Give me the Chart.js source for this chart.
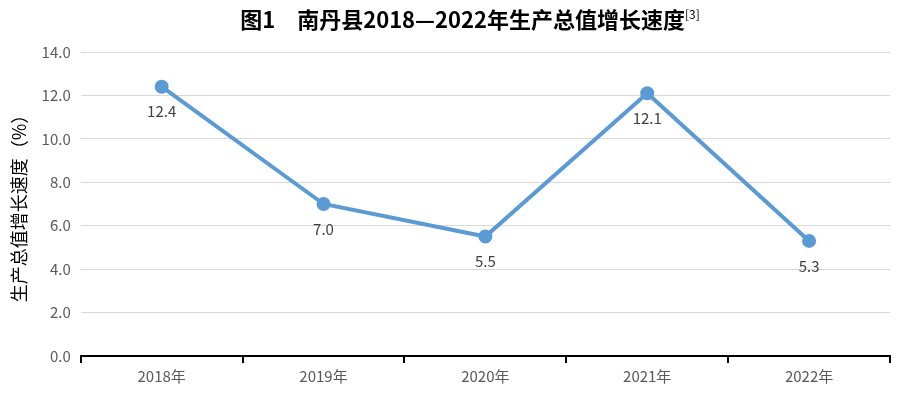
<!DOCTYPE html>
<html>
<head>
<meta charset="utf-8">
<script src="https://cdn.jsdelivr.net/npm/chart.js@4"></script>
<style>
  body { margin: 0; background: #fff; }
  #wrap { position: relative; width: 900px; height: 404px; }
  #title {
    position: absolute; left: 40px; top: 2px; width: 860px; text-align: center;
    font-family: "Noto Sans CJK SC", sans-serif; font-size: 22px; font-weight: bold; color: #000;
  }
  #title sup { font-size: 12px; font-weight: normal; vertical-align: 9px; }
</style>
</head>
<body>
<div id="wrap">
  <div id="title">图1　南丹县2018—2022年生产总值增长速度<sup>[3]</sup></div>
  <canvas id="chart" width="900" height="404"></canvas>
</div>
<script>
// chart data
const years = ["2018年", "2019年", "2020年", "2021年", "2022年"];
const growth = [12.4, 7.0, 5.5, 12.1, 5.3];
const yTicks = [0, 2, 4, 6, 8, 10, 12, 14];

const FONT = '"Noto Sans CJK SC", sans-serif';

// labels under each point
const pointLabels = {
  id: 'pointLabels',
  afterDatasetsDraw(chart) {
    const ctx = chart.ctx;
    const meta = chart.getDatasetMeta(0);
    ctx.save();
    ctx.font = '15px ' + FONT;
    ctx.fillStyle = '#404040';
    ctx.textAlign = 'center';
    ctx.textBaseline = 'middle';
    meta.data.forEach((pt, i) => {
      ctx.fillText(growth[i].toFixed(1), pt.x, pt.y + 25);
    });
    ctx.restore();
  }
};

new Chart(document.getElementById('chart'), {
  type: 'line',
  data: {
    labels: years,
    datasets: [{
      data: growth,
      borderColor: '#5B9BD5',
      backgroundColor: '#5B9BD5',
      borderWidth: 4,
      pointRadius: 5,
      pointHoverRadius: 5,
      tension: 0
    }]
  },
  options: {
    responsive: false,
    animation: false,
    layout: { padding: { top: 52, right: 10, left: 4, bottom: 15 } },
    plugins: { legend: { display: false }, tooltip: { enabled: false } },
    scales: {
      x: {
        offset: true,
        grid: {
          offset: true,
          drawOnChartArea: false,
          drawTicks: true,
          tickLength: 7,
          color: '#000',
          lineWidth: 2
        },
        border: { color: '#000', width: 2 },
        ticks: { color: '#595959', font: { family: FONT, size: 15 }, padding: 4 }
      },
      y: {
        min: 0,
        max: 14,
        afterBuildTicks(axis) { axis.ticks = yTicks.map(v => ({ value: v })); },
        grid: { color: '#d9d9d9', lineWidth: 1, drawTicks: false },
        border: { display: false },
        ticks: {
          color: '#595959',
          font: { family: FONT, size: 15 },
          padding: 10,
          callback: v => v.toFixed(1)
        },
        title: {
          display: true,
          text: '生产总值增长速度（%）',
          color: '#000',
          font: { family: FONT, size: 18 },
          padding: { bottom: 2 }
        }
      }
    }
  },
  plugins: [pointLabels]
});
</script>
</body>
</html>
